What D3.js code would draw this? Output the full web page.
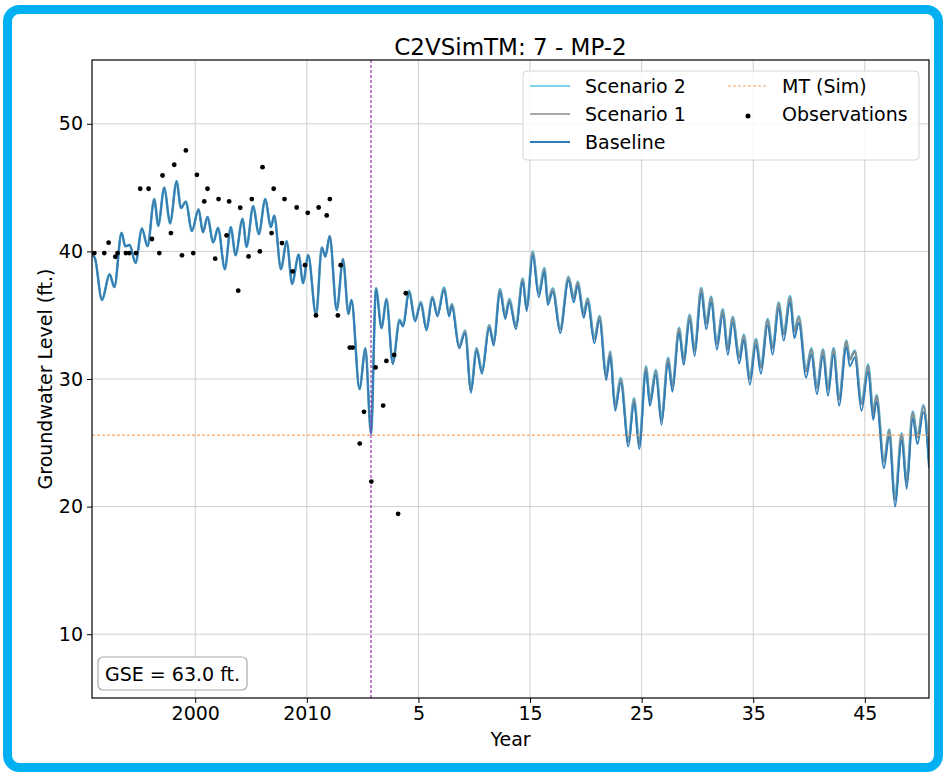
<!DOCTYPE html>
<html>
<head>
<meta charset="utf-8">
<script src="https://cdn.jsdelivr.net/npm/d3@7"></script>
<style>
  html, body { margin: 0; padding: 0; background: #ffffff; }
  svg { display: block; font-family: "DejaVu Sans", sans-serif; }
</style>
</head>
<body>
<svg id="chart" width="946" height="773"></svg>
<script>
// Historical simulation (shared by every scenario), decimal years
const histYears = [
  1990.75, 1991.0, 1991.64, 1992.33, 1992.75, 1993.40, 1993.73, 1994.12, 1994.66,
  1995.22, 1995.73, 1996.33, 1996.69, 1997.22, 1997.75, 1998.33, 1998.72, 1999.16,
  1999.70, 2000.30, 2000.69, 2001.10, 2001.61, 2002.05, 2002.65, 2003.19, 2003.61,
  2004.24, 2004.60, 2005.19, 2005.70, 2006.27, 2006.78, 2007.08, 2007.68, 2008.20,
  2008.68, 2009.27, 2009.66, 2010.12, 2010.83, 2011.34, 2011.66, 2012.05, 2012.68,
  2013.24, 2013.73, 2014.00, 2014.72, 2015.25, 2015.75
];
const histLevels = [
  39.7, 39.5, 36.2, 38.2, 37.2, 41.45, 40.4, 40.5, 39.1,
  41.8, 40.4, 44.1, 42.0, 45.0, 42.2, 45.5, 43.4, 43.9,
  41.6, 43.3, 41.5, 42.7, 40.7, 41.85, 38.6, 41.9, 39.7,
  42.55, 40.35, 43.55, 41.35, 44.1, 41.9, 42.8, 38.6, 40.8,
  37.45, 39.75, 37.5, 39.7, 35.0, 40.3, 39.6, 41.2, 35.4,
  39.4, 35.1, 36.2, 29.2, 32.4, 25.7
];

// Projection period (simulation years 1-50)
const projYears = [
  2016.20, 2016.69, 2017.14, 2017.70, 2018.31, 2018.62, 2019.16, 2019.70, 2020.21, 2020.72,
  2021.25, 2021.70, 2022.30, 2022.75, 2022.99, 2023.65, 2024.19, 2024.70, 2025.21, 2025.69,
  2026.35, 2026.74, 2027.31, 2027.78, 2028.14, 2028.74, 2029.34, 2029.70, 2030.24, 2030.78,
  2031.29, 2031.59, 2032.04, 2032.70, 2033.45, 2033.92, 2034.27, 2034.81, 2035.16, 2035.76,
  2036.23, 2036.82, 2037.18, 2037.63, 2038.13, 2038.81, 2039.32, 2039.79, 2040.39, 2040.74,
  2041.28, 2041.78, 2042.37, 2042.76, 2043.35, 2043.77, 2044.30, 2044.75, 2045.34, 2045.79,
  2046.23, 2046.74, 2047.27, 2047.72, 2048.16, 2048.75, 2049.15, 2049.70, 2050.24, 2050.69,
  2051.29, 2051.74, 2052.28, 2052.73, 2053.30, 2053.69, 2054.08, 2054.74, 2055.20, 2055.71,
  2056.25, 2056.70, 2057.21, 2057.69, 2058.35, 2058.65, 2059.10, 2059.70, 2060.30, 2060.75,
  2061.05, 2061.71, 2062.19, 2062.70, 2063.30, 2063.75, 2064.29, 2064.71, 2065.26, 2065.75
];
const baselineProj = [
  37.05, 33.95, 36.20, 31.15, 34.55, 34.10, 36.80, 34.50, 35.90, 33.80,
  36.30, 34.90, 37.00, 34.90, 35.70, 32.40, 33.60, 28.90, 32.20, 30.40,
  34.00, 32.60, 36.80, 34.70, 36.00, 33.90, 37.60, 35.30, 39.70, 36.40,
  38.40, 35.80, 36.80, 33.60, 37.70, 36.00, 37.30, 34.80, 36.00, 32.80,
  34.60, 29.90, 31.80, 27.50, 29.70, 24.70, 28.10, 24.50, 30.60, 27.90,
  30.30, 26.40, 31.25, 29.00, 33.60, 31.10, 34.60, 31.80, 36.70, 33.90,
  36.00, 32.30, 35.00, 31.90, 34.40, 31.20, 33.00, 29.55, 32.65, 30.40,
  34.20, 31.90, 35.50, 33.00, 36.00, 33.20, 34.40, 30.10, 31.90, 28.80,
  31.80, 28.70, 31.90, 27.90, 32.50, 31.00, 31.70, 27.50, 30.60, 26.80,
  28.20, 23.00, 25.50, 20.00, 25.20, 21.40, 26.90, 24.90, 27.40, 23.00
];
const scenario1Proj = [
  37.10, 34.00, 36.26, 31.22, 34.63, 34.18, 36.88, 34.60, 36.00, 33.92,
  36.41, 35.03, 37.12, 35.05, 35.84, 32.57, 33.75, 29.10, 32.37, 30.61,
  34.18, 32.82, 36.99, 34.93, 36.20, 34.15, 37.81, 35.56, 39.92, 36.68,
  38.63, 36.09, 37.04, 33.90, 37.95, 36.31, 37.56, 35.12, 36.27, 33.13,
  34.88, 30.24, 32.09, 27.85, 30.00, 25.06, 28.41, 24.87, 30.92, 28.28,
  30.63, 26.79, 31.59, 29.40, 33.95, 31.51, 34.96, 32.22, 37.07, 34.33,
  36.38, 32.74, 35.39, 32.35, 34.80, 31.66, 33.41, 30.02, 33.07, 30.88,
  34.62, 32.38, 35.93, 33.49, 36.43, 33.69, 34.84, 30.60, 32.34, 29.30,
  32.25, 29.21, 32.35, 28.41, 32.95, 31.50, 32.16, 28.02, 31.06, 27.32,
  28.67, 23.52, 25.97, 20.52, 25.67, 21.92, 27.37, 25.42, 27.87, 23.50
];
const scenario2Proj = [
  37.12, 34.02, 36.28, 31.25, 34.66, 34.21, 36.91, 34.63, 36.03, 33.96,
  36.45, 35.07, 37.16, 35.09, 35.88, 32.62, 33.80, 29.15, 32.42, 30.66,
  34.23, 32.87, 37.04, 34.99, 36.26, 34.21, 37.87, 35.62, 39.98, 36.74,
  38.69, 36.15, 37.10, 33.96, 38.01, 36.37, 37.62, 35.18, 36.33, 33.20,
  34.95, 30.31, 32.16, 27.92, 30.07, 25.13, 28.48, 24.94, 30.99, 28.35,
  30.70, 26.86, 31.66, 29.47, 34.02, 31.58, 35.03, 32.29, 37.14, 34.40,
  36.45, 32.81, 35.46, 32.42, 34.87, 31.73, 33.48, 30.09, 33.14, 30.95,
  34.69, 32.45, 36.00, 33.56, 36.50, 33.76, 34.91, 30.67, 32.41, 29.37,
  32.32, 29.28, 32.42, 28.48, 33.02, 31.57, 32.23, 28.09, 31.13, 27.39,
  28.74, 23.59, 26.04, 20.59, 25.74, 21.99, 27.44, 25.49, 27.94, 23.57
];

// Measured groundwater levels
const obsYears = [
  1990.96, 1991.85, 1992.24, 1992.84, 1993.04, 1993.79, 1994.09, 1994.69,
  1995.07, 1995.82, 1996.12, 1996.78, 1997.07, 1997.82, 1998.12, 1998.81,
  1999.16, 1999.82, 2000.15, 2000.81, 2001.10, 2001.79, 2002.09, 2002.81,
  2003.04, 2003.85, 2004.03, 2004.78, 2005.07, 2005.79, 2006.03, 2006.84,
  2007.03, 2007.77, 2008.00, 2008.73, 2009.09, 2009.84, 2010.08, 2010.82,
  2011.06, 2011.78, 2012.06, 2012.78, 2013.03, 2013.85, 2014.10, 2014.74,
  2015.12, 2015.78, 2016.16, 2016.84, 2017.13, 2017.83, 2018.18, 2018.87
];
const obsLevels = [
  39.87, 39.87, 40.68, 39.58, 39.87, 39.87, 39.87, 39.87,
  44.91, 44.91, 40.97, 39.87, 45.95, 41.44, 46.79, 39.69,
  47.91, 39.87, 46.00, 43.92, 44.91, 39.43, 44.10, 41.25,
  43.92, 36.92, 43.42, 39.61, 44.10, 40.00, 46.60, 41.44,
  44.91, 40.65, 44.10, 38.43, 43.44, 38.92, 43.02, 34.98,
  43.44, 42.82, 44.10, 34.98, 38.92, 32.46, 32.46, 24.94,
  27.43, 21.96, 30.91, 27.92, 31.42, 31.89, 19.43, 36.72
];

const mtLevel = 25.6;
const transitionYear = 2015.75;
const gseLabel = "GSE = 63.0 ft.";
const xTickValues = [2000, 2010, 2020, 2030, 2040, 2050, 2060];
const xTickLabels = ["2000", "2010", "5", "15", "25", "35", "45"];
const yTickValues = [10, 20, 30, 40, 50];

const svg = d3.select("#chart");
const W = 946, H = 773;
const plot = { left: 92, right: 929, top: 60, bottom: 698 };

const x = d3.scaleLinear().domain([1990.75, 2065.75]).range([plot.left, plot.right]);
const y = d3.scaleLinear().domain([5, 55]).range([plot.bottom, plot.top]);

svg.append("rect").attr("width", W).attr("height", H).attr("fill", "#ffffff");

// Frame around the figure
svg.append("rect")
  .attr("x", 7.5).attr("y", 9.5).attr("width", 931).attr("height", 758)
  .attr("rx", 12).attr("fill", "none")
  .attr("stroke", "#00b0f0").attr("stroke-width", 9);

svg.append("defs").append("clipPath").attr("id", "plot-clip")
  .append("rect")
  .attr("x", plot.left).attr("y", plot.top)
  .attr("width", plot.right - plot.left).attr("height", plot.bottom - plot.top);

// Grid
const grid = svg.append("g").attr("stroke", "#cfcfcf").attr("stroke-width", 1);
grid.selectAll(".gx").data(xTickValues).join("line")
  .attr("x1", d => x(d)).attr("x2", d => x(d))
  .attr("y1", plot.top).attr("y2", plot.bottom);
grid.selectAll(".gy").data(yTickValues).join("line")
  .attr("x1", plot.left).attr("x2", plot.right)
  .attr("y1", d => y(d)).attr("y2", d => y(d));

const body = svg.append("g").attr("clip-path", "url(#plot-clip)");

// Series
const toPoints = (ys, vs) => ys.map((t, i) => ({ t, v: vs[i] }));
const line = d3.line().x(d => x(d.t)).y(d => y(d.v)).curve(d3.curveMonotoneX);

const series = [
  { name: "Scenario 2", color: "#52c3e6", width: 2.6, proj: scenario2Proj },
  { name: "Scenario 1", color: "#8c8c8c", width: 2.0, proj: scenario1Proj },
  { name: "Baseline",   color: "#2f7db9", width: 1.8, proj: baselineProj }
];
series.forEach(s => {
  const pts = toPoints(histYears, histLevels).concat(toPoints(projYears, s.proj));
  body.append("path").datum(pts)
    .attr("d", line).attr("fill", "none")
    .attr("stroke", s.color).attr("stroke-width", s.width)
    .attr("stroke-linejoin", "round");
});

// Minimum threshold
body.append("line")
  .attr("x1", plot.left).attr("x2", plot.right)
  .attr("y1", y(mtLevel)).attr("y2", y(mtLevel))
  .attr("stroke", "#f5a25d").attr("stroke-width", 1.2)
  .attr("stroke-dasharray", "3,2");

// Start of projection
body.append("line")
  .attr("x1", x(transitionYear)).attr("x2", x(transitionYear))
  .attr("y1", plot.top).attr("y2", plot.bottom)
  .attr("stroke", "#9d2fb0").attr("stroke-width", 1.2)
  .attr("stroke-dasharray", "3,2");

// Observations
body.selectAll(".obs").data(toPoints(obsYears, obsLevels)).join("circle")
  .attr("cx", d => x(d.t)).attr("cy", d => y(d.v)).attr("r", 2.4)
  .attr("fill", "#000000");

// Axes
const xAxis = d3.axisBottom(x).tickValues(xTickValues)
  .tickFormat((d, i) => xTickLabels[i]).tickSize(5).tickPadding(4);
const yAxis = d3.axisLeft(y).tickValues(yTickValues)
  .tickFormat(d3.format("d")).tickSize(5).tickPadding(4);

const gx = svg.append("g").attr("transform", `translate(0,${plot.bottom})`).call(xAxis);
const gy = svg.append("g").attr("transform", `translate(${plot.left},0)`).call(yAxis);
[gx, gy].forEach(g => {
  g.select(".domain").remove();
  g.selectAll("text").attr("font-size", 19).attr("font-family", "DejaVu Sans").attr("fill", "#000");
  g.selectAll("line").attr("stroke", "#000");
});

// Plot frame
svg.append("rect")
  .attr("x", plot.left).attr("y", plot.top)
  .attr("width", plot.right - plot.left).attr("height", plot.bottom - plot.top)
  .attr("fill", "none").attr("stroke", "#000").attr("stroke-width", 1.2);

// Titles
svg.append("text").attr("x", (plot.left + plot.right) / 2).attr("y", 55)
  .attr("text-anchor", "middle").attr("font-size", 23).text("C2VSimTM: 7 - MP-2");
svg.append("text").attr("x", (plot.left + plot.right) / 2).attr("y", 746)
  .attr("text-anchor", "middle").attr("font-size", 19).text("Year");
svg.append("text")
  .attr("transform", `translate(52,${(plot.top + plot.bottom) / 2}) rotate(-90)`)
  .attr("text-anchor", "middle").attr("font-size", 19).text("Groundwater Level (ft.)");

// Ground surface elevation note
svg.append("rect").attr("x", 98).attr("y", 657).attr("width", 149).attr("height", 33)
  .attr("rx", 5).attr("fill", "#ffffff").attr("stroke", "#a8a8a8").attr("stroke-width", 1.2);
svg.append("text").attr("x", 105).attr("y", 681).attr("font-size", 19).text(gseLabel);

// Legend
const lg = svg.append("g");
lg.append("rect").attr("x", 523).attr("y", 71).attr("width", 396).attr("height", 89)
  .attr("rx", 4).attr("fill", "#ffffff").attr("fill-opacity", 0.85)
  .attr("stroke", "#d6d6d6").attr("stroke-width", 1);
const rowsY = [86, 114, 142];
series.forEach((s, i) => {
  lg.append("line").attr("x1", 530).attr("x2", 570).attr("y1", rowsY[i]).attr("y2", rowsY[i])
    .attr("stroke", s.color).attr("stroke-width", s.name === "Baseline" ? 2 : 1.6);
  lg.append("text").attr("x", 585).attr("y", rowsY[i] + 7).attr("font-size", 19).text(s.name);
});
lg.append("line").attr("x1", 728).attr("x2", 768).attr("y1", rowsY[0]).attr("y2", rowsY[0])
  .attr("stroke", "#f5a25d").attr("stroke-width", 1.2).attr("stroke-dasharray", "3,2");
lg.append("text").attr("x", 782).attr("y", rowsY[0] + 7).attr("font-size", 19).text("MT (Sim)");
lg.append("circle").attr("cx", 748).attr("cy", rowsY[1] + 2).attr("r", 2.5).attr("fill", "#000");
lg.append("text").attr("x", 782).attr("y", rowsY[1] + 7).attr("font-size", 19).text("Observations");
</script>
</body>
</html>
